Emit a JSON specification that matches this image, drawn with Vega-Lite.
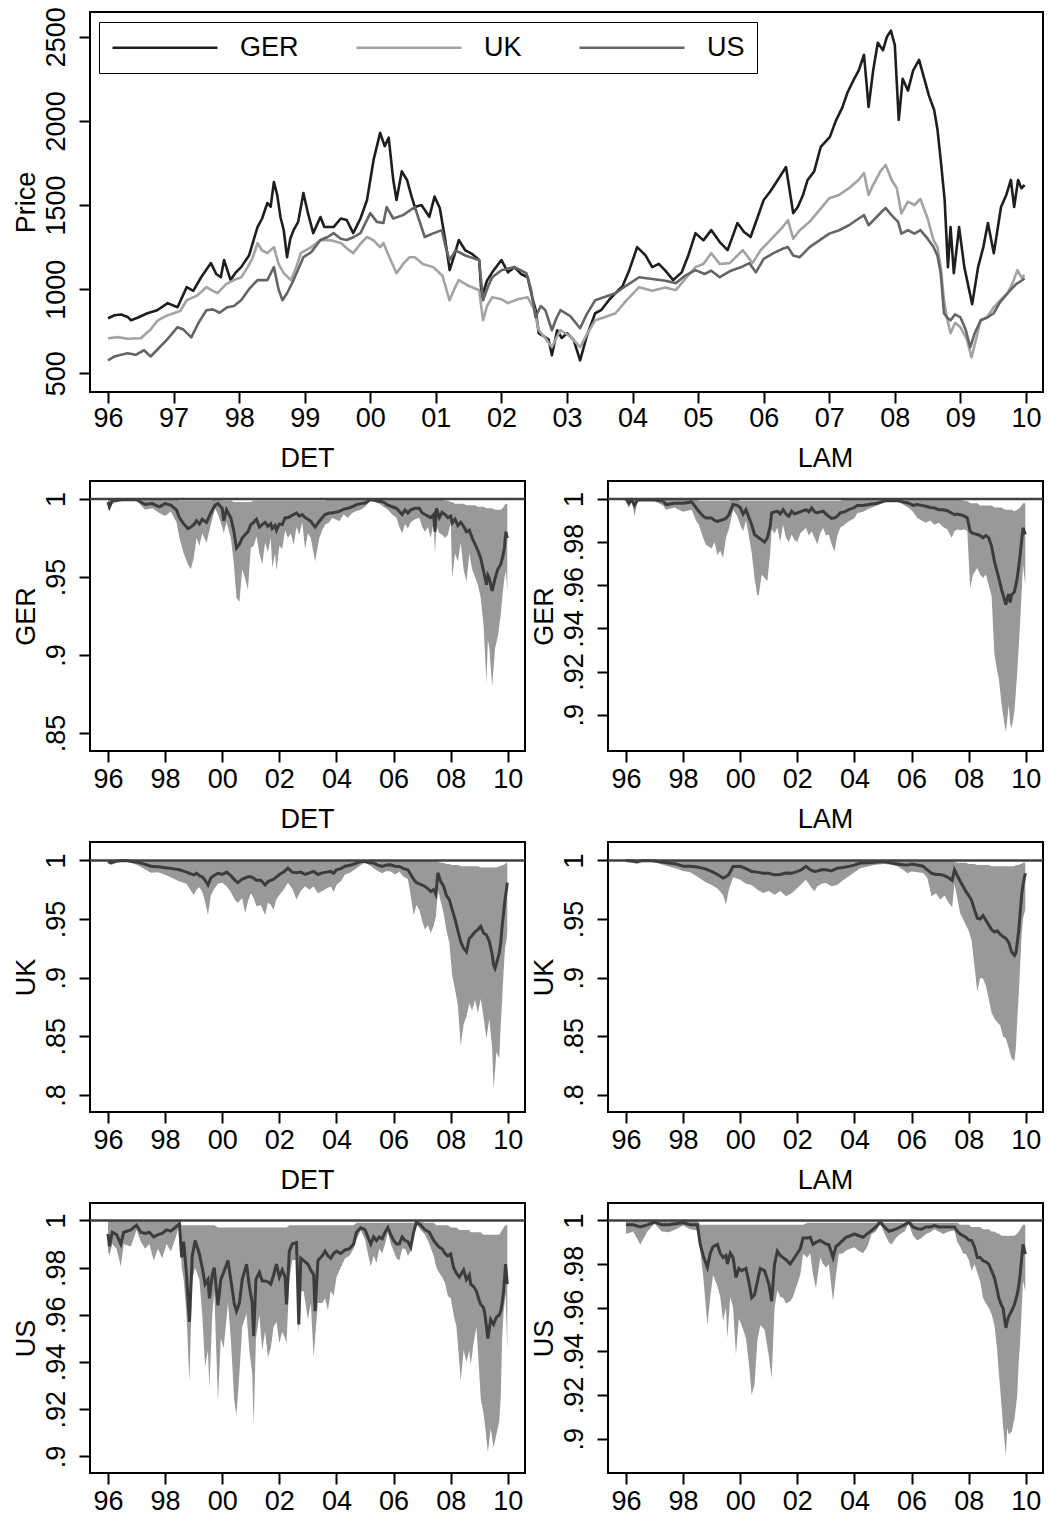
{
"$schema": "https://vega.github.io/schema/vega-lite/v6.json",
"background": "white",
"padding": {"left": 11, "top": 5, "right": 0, "bottom": 0},
"spacing": 12,
"config": {
 "font": "Liberation Sans",
 "view": {"stroke": "black", "strokeWidth": 2},
 "axis": {"grid": false, "domain": false, "tickSize": 11, "tickWidth": 2, "tickColor": "black", "labelFontSize": 27, "labelColor": "black", "labelFont": "Liberation Sans", "titleFontSize": 27, "titleFontWeight": "normal", "titleColor": "black", "titleFont": "Liberation Sans", "labelOverlap": false, "labelFlush": false, "labelPadding": 4},
 "axisY": {"labelAngle": -90, "labelAlign": "center", "labelBaseline": "alphabetic", "labelPadding": 15, "titleAngle": -90, "titleAlign": "center", "titleBaseline": "alphabetic"},
 "title": {"fontSize": 27, "fontWeight": "normal", "font": "Liberation Sans", "color": "black", "offset": 8, "anchor": "middle", "frame": "group"}
},
"datasets": {
"price": [
{"c":"GER","t":1996.0,"v":827},{"c":"GER","t":1996.1,"v":845},{"c":"GER","t":1996.2,"v":850},{"c":"GER","t":1996.3,"v":835},{"c":"GER","t":1996.35,"v":815},{"c":"GER","t":1996.45,"v":830},{"c":"GER","t":1996.6,"v":857},{"c":"GER","t":1996.75,"v":875},{"c":"GER","t":1996.91,"v":917},{"c":"GER","t":1997.06,"v":893},{"c":"GER","t":1997.2,"v":1012},{"c":"GER","t":1997.3,"v":990},{"c":"GER","t":1997.42,"v":1071},{"c":"GER","t":1997.57,"v":1155},{"c":"GER","t":1997.65,"v":1090},{"c":"GER","t":1997.72,"v":1071},{"c":"GER","t":1997.77,"v":1173},{"c":"GER","t":1997.87,"v":1054},{"c":"GER","t":1997.95,"v":1100},{"c":"GER","t":1998.03,"v":1131},{"c":"GER","t":1998.15,"v":1200},{"c":"GER","t":1998.28,"v":1369},{"c":"GER","t":1998.35,"v":1420},{"c":"GER","t":1998.43,"v":1512},{"c":"GER","t":1998.48,"v":1490},{"c":"GER","t":1998.53,"v":1637},{"c":"GER","t":1998.58,"v":1560},{"c":"GER","t":1998.63,"v":1429},{"c":"GER","t":1998.68,"v":1350},{"c":"GER","t":1998.73,"v":1190},{"c":"GER","t":1998.78,"v":1300},{"c":"GER","t":1998.83,"v":1351},{"c":"GER","t":1998.9,"v":1400},{"c":"GER","t":1998.98,"v":1571},{"c":"GER","t":1999.05,"v":1450},{"c":"GER","t":1999.13,"v":1333},{"c":"GER","t":1999.24,"v":1429},{"c":"GER","t":1999.3,"v":1370},{"c":"GER","t":1999.44,"v":1369},{"c":"GER","t":1999.55,"v":1420},{"c":"GER","t":1999.64,"v":1411},{"c":"GER","t":1999.74,"v":1333},{"c":"GER","t":1999.85,"v":1420},{"c":"GER","t":1999.95,"v":1530},{"c":"GER","t":2000.05,"v":1768},{"c":"GER","t":2000.15,"v":1929},{"c":"GER","t":2000.22,"v":1850},{"c":"GER","t":2000.28,"v":1900},{"c":"GER","t":2000.35,"v":1650},{"c":"GER","t":2000.4,"v":1530},{"c":"GER","t":2000.48,"v":1700},{"c":"GER","t":2000.56,"v":1649},{"c":"GER","t":2000.63,"v":1550},{"c":"GER","t":2000.68,"v":1488},{"c":"GER","t":2000.78,"v":1500},{"c":"GER","t":2000.9,"v":1430},{"c":"GER","t":2000.98,"v":1550},{"c":"GER","t":2001.06,"v":1482},{"c":"GER","t":2001.14,"v":1300},{"c":"GER","t":2001.21,"v":1113},{"c":"GER","t":2001.28,"v":1200},{"c":"GER","t":2001.35,"v":1292},{"c":"GER","t":2001.45,"v":1230},{"c":"GER","t":2001.55,"v":1210},{"c":"GER","t":2001.66,"v":1173},{"c":"GER","t":2001.7,"v":952},{"c":"GER","t":2001.78,"v":1050},{"c":"GER","t":2001.86,"v":1100},{"c":"GER","t":2002.0,"v":1173},{"c":"GER","t":2002.1,"v":1100},{"c":"GER","t":2002.2,"v":1131},{"c":"GER","t":2002.3,"v":1090},{"c":"GER","t":2002.4,"v":1071},{"c":"GER","t":2002.47,"v":950},{"c":"GER","t":2002.52,"v":880},{"c":"GER","t":2002.57,"v":738},{"c":"GER","t":2002.65,"v":720},{"c":"GER","t":2002.72,"v":700},{"c":"GER","t":2002.77,"v":607},{"c":"GER","t":2002.85,"v":756},{"c":"GER","t":2002.92,"v":710},{"c":"GER","t":2003.0,"v":738},{"c":"GER","t":2003.1,"v":700},{"c":"GER","t":2003.2,"v":577},{"c":"GER","t":2003.3,"v":720},{"c":"GER","t":2003.43,"v":857},{"c":"GER","t":2003.52,"v":875},{"c":"GER","t":2003.65,"v":940},{"c":"GER","t":2003.74,"v":976},{"c":"GER","t":2003.85,"v":1020},{"c":"GER","t":2003.95,"v":1113},{"c":"GER","t":2004.07,"v":1250},{"c":"GER","t":2004.2,"v":1200},{"c":"GER","t":2004.3,"v":1131},{"c":"GER","t":2004.4,"v":1150},{"c":"GER","t":2004.5,"v":1110},{"c":"GER","t":2004.62,"v":1054},{"c":"GER","t":2004.75,"v":1100},{"c":"GER","t":2004.85,"v":1200},{"c":"GER","t":2004.96,"v":1333},{"c":"GER","t":2005.08,"v":1290},{"c":"GER","t":2005.2,"v":1351},{"c":"GER","t":2005.33,"v":1280},{"c":"GER","t":2005.45,"v":1232},{"c":"GER","t":2005.6,"v":1393},{"c":"GER","t":2005.7,"v":1340},{"c":"GER","t":2005.8,"v":1310},{"c":"GER","t":2005.9,"v":1420},{"c":"GER","t":2006.0,"v":1530},{"c":"GER","t":2006.1,"v":1580},{"c":"GER","t":2006.2,"v":1640},{"c":"GER","t":2006.34,"v":1726},{"c":"GER","t":2006.45,"v":1452},{"c":"GER","t":2006.52,"v":1488},{"c":"GER","t":2006.6,"v":1560},{"c":"GER","t":2006.67,"v":1649},{"c":"GER","t":2006.77,"v":1700},{"c":"GER","t":2006.87,"v":1845},{"c":"GER","t":2007.01,"v":1905},{"c":"GER","t":2007.1,"v":2000},{"c":"GER","t":2007.2,"v":2080},{"c":"GER","t":2007.28,"v":2170},{"c":"GER","t":2007.38,"v":2250},{"c":"GER","t":2007.45,"v":2300},{"c":"GER","t":2007.53,"v":2393},{"c":"GER","t":2007.6,"v":2083},{"c":"GER","t":2007.67,"v":2300},{"c":"GER","t":2007.74,"v":2464},{"c":"GER","t":2007.82,"v":2420},{"c":"GER","t":2007.88,"v":2500},{"c":"GER","t":2007.94,"v":2536},{"c":"GER","t":2008.0,"v":2450},{"c":"GER","t":2008.06,"v":2006},{"c":"GER","t":2008.12,"v":2250},{"c":"GER","t":2008.2,"v":2180},{"c":"GER","t":2008.28,"v":2300},{"c":"GER","t":2008.37,"v":2363},{"c":"GER","t":2008.45,"v":2250},{"c":"GER","t":2008.52,"v":2150},{"c":"GER","t":2008.6,"v":2065},{"c":"GER","t":2008.65,"v":1950},{"c":"GER","t":2008.7,"v":1768},{"c":"GER","t":2008.76,"v":1530},{"c":"GER","t":2008.81,"v":1131},{"c":"GER","t":2008.85,"v":1369},{"c":"GER","t":2008.9,"v":1095},{"c":"GER","t":2008.98,"v":1369},{"c":"GER","t":2009.06,"v":1131},{"c":"GER","t":2009.18,"v":911},{"c":"GER","t":2009.27,"v":1131},{"c":"GER","t":2009.35,"v":1250},{"c":"GER","t":2009.42,"v":1393},{"c":"GER","t":2009.51,"v":1214},{"c":"GER","t":2009.62,"v":1488},{"c":"GER","t":2009.7,"v":1560},{"c":"GER","t":2009.77,"v":1649},{"c":"GER","t":2009.82,"v":1488},{"c":"GER","t":2009.88,"v":1649},{"c":"GER","t":2009.93,"v":1600},{"c":"GER","t":2009.98,"v":1619},
{"c":"UK","t":1996.0,"v":708},{"c":"UK","t":1996.15,"v":715},{"c":"UK","t":1996.3,"v":705},{"c":"UK","t":1996.5,"v":708},{"c":"UK","t":1996.65,"v":760},{"c":"UK","t":1996.76,"v":815},{"c":"UK","t":1996.88,"v":840},{"c":"UK","t":1997.0,"v":857},{"c":"UK","t":1997.1,"v":870},{"c":"UK","t":1997.2,"v":934},{"c":"UK","t":1997.35,"v":960},{"c":"UK","t":1997.5,"v":1012},{"c":"UK","t":1997.6,"v":990},{"c":"UK","t":1997.67,"v":976},{"c":"UK","t":1997.8,"v":1030},{"c":"UK","t":1997.92,"v":1054},{"c":"UK","t":1998.03,"v":1070},{"c":"UK","t":1998.13,"v":1131},{"c":"UK","t":1998.2,"v":1180},{"c":"UK","t":1998.28,"v":1274},{"c":"UK","t":1998.35,"v":1230},{"c":"UK","t":1998.43,"v":1214},{"c":"UK","t":1998.53,"v":1250},{"c":"UK","t":1998.6,"v":1150},{"c":"UK","t":1998.68,"v":1095},{"c":"UK","t":1998.79,"v":1054},{"c":"UK","t":1998.87,"v":1130},{"c":"UK","t":1998.94,"v":1214},{"c":"UK","t":1999.1,"v":1250},{"c":"UK","t":1999.24,"v":1292},{"c":"UK","t":1999.4,"v":1290},{"c":"UK","t":1999.55,"v":1274},{"c":"UK","t":1999.65,"v":1240},{"c":"UK","t":1999.74,"v":1214},{"c":"UK","t":1999.85,"v":1270},{"c":"UK","t":1999.95,"v":1310},{"c":"UK","t":2000.05,"v":1290},{"c":"UK","t":2000.15,"v":1250},{"c":"UK","t":2000.2,"v":1274},{"c":"UK","t":2000.28,"v":1200},{"c":"UK","t":2000.4,"v":1095},{"c":"UK","t":2000.5,"v":1150},{"c":"UK","t":2000.6,"v":1190},{"c":"UK","t":2000.68,"v":1190},{"c":"UK","t":2000.8,"v":1150},{"c":"UK","t":2000.96,"v":1131},{"c":"UK","t":2001.1,"v":1080},{"c":"UK","t":2001.21,"v":934},{"c":"UK","t":2001.28,"v":1000},{"c":"UK","t":2001.35,"v":1054},{"c":"UK","t":2001.5,"v":1020},{"c":"UK","t":2001.66,"v":994},{"c":"UK","t":2001.72,"v":815},{"c":"UK","t":2001.78,"v":900},{"c":"UK","t":2001.86,"v":952},{"c":"UK","t":2002.0,"v":940},{"c":"UK","t":2002.1,"v":917},{"c":"UK","t":2002.25,"v":940},{"c":"UK","t":2002.4,"v":952},{"c":"UK","t":2002.5,"v":880},{"c":"UK","t":2002.57,"v":756},{"c":"UK","t":2002.65,"v":720},{"c":"UK","t":2002.77,"v":655},{"c":"UK","t":2002.85,"v":720},{"c":"UK","t":2002.9,"v":756},{"c":"UK","t":2003.05,"v":720},{"c":"UK","t":2003.2,"v":655},{"c":"UK","t":2003.3,"v":730},{"c":"UK","t":2003.43,"v":815},{"c":"UK","t":2003.55,"v":830},{"c":"UK","t":2003.74,"v":857},{"c":"UK","t":2003.9,"v":930},{"c":"UK","t":2004.1,"v":1012},{"c":"UK","t":2004.3,"v":990},{"c":"UK","t":2004.5,"v":1010},{"c":"UK","t":2004.66,"v":994},{"c":"UK","t":2004.8,"v":1060},{"c":"UK","t":2004.96,"v":1131},{"c":"UK","t":2005.08,"v":1150},{"c":"UK","t":2005.2,"v":1214},{"c":"UK","t":2005.33,"v":1150},{"c":"UK","t":2005.48,"v":1155},{"c":"UK","t":2005.6,"v":1200},{"c":"UK","t":2005.68,"v":1232},{"c":"UK","t":2005.83,"v":1155},{"c":"UK","t":2005.95,"v":1230},{"c":"UK","t":2006.1,"v":1292},{"c":"UK","t":2006.29,"v":1369},{"c":"UK","t":2006.37,"v":1410},{"c":"UK","t":2006.45,"v":1300},{"c":"UK","t":2006.55,"v":1350},{"c":"UK","t":2006.7,"v":1400},{"c":"UK","t":2006.85,"v":1470},{"c":"UK","t":2007.0,"v":1540},{"c":"UK","t":2007.15,"v":1560},{"c":"UK","t":2007.3,"v":1600},{"c":"UK","t":2007.45,"v":1650},{"c":"UK","t":2007.53,"v":1690},{"c":"UK","t":2007.6,"v":1560},{"c":"UK","t":2007.67,"v":1620},{"c":"UK","t":2007.78,"v":1700},{"c":"UK","t":2007.86,"v":1738},{"c":"UK","t":2007.95,"v":1650},{"c":"UK","t":2008.03,"v":1600},{"c":"UK","t":2008.1,"v":1450},{"c":"UK","t":2008.2,"v":1520},{"c":"UK","t":2008.3,"v":1500},{"c":"UK","t":2008.39,"v":1536},{"c":"UK","t":2008.5,"v":1420},{"c":"UK","t":2008.59,"v":1292},{"c":"UK","t":2008.65,"v":1250},{"c":"UK","t":2008.7,"v":1131},{"c":"UK","t":2008.75,"v":934},{"c":"UK","t":2008.8,"v":820},{"c":"UK","t":2008.85,"v":738},{"c":"UK","t":2008.92,"v":800},{"c":"UK","t":2009.0,"v":774},{"c":"UK","t":2009.1,"v":700},{"c":"UK","t":2009.17,"v":595},{"c":"UK","t":2009.25,"v":720},{"c":"UK","t":2009.31,"v":815},{"c":"UK","t":2009.4,"v":830},{"c":"UK","t":2009.51,"v":893},{"c":"UK","t":2009.6,"v":930},{"c":"UK","t":2009.72,"v":976},{"c":"UK","t":2009.8,"v":1040},{"c":"UK","t":2009.87,"v":1113},{"c":"UK","t":2009.93,"v":1070},{"c":"UK","t":2009.98,"v":1083},
{"c":"US","t":1996.0,"v":577},{"c":"US","t":1996.1,"v":600},{"c":"US","t":1996.2,"v":610},{"c":"US","t":1996.3,"v":619},{"c":"US","t":1996.42,"v":610},{"c":"US","t":1996.55,"v":637},{"c":"US","t":1996.65,"v":600},{"c":"US","t":1996.75,"v":640},{"c":"US","t":1996.9,"v":700},{"c":"US","t":1997.06,"v":774},{"c":"US","t":1997.15,"v":760},{"c":"US","t":1997.27,"v":714},{"c":"US","t":1997.38,"v":800},{"c":"US","t":1997.5,"v":875},{"c":"US","t":1997.6,"v":880},{"c":"US","t":1997.7,"v":860},{"c":"US","t":1997.82,"v":893},{"c":"US","t":1997.92,"v":900},{"c":"US","t":1998.03,"v":934},{"c":"US","t":1998.15,"v":1000},{"c":"US","t":1998.28,"v":1054},{"c":"US","t":1998.43,"v":1054},{"c":"US","t":1998.53,"v":1131},{"c":"US","t":1998.6,"v":1000},{"c":"US","t":1998.66,"v":934},{"c":"US","t":1998.73,"v":976},{"c":"US","t":1998.83,"v":1054},{"c":"US","t":1998.98,"v":1190},{"c":"US","t":1999.1,"v":1220},{"c":"US","t":1999.24,"v":1292},{"c":"US","t":1999.35,"v":1310},{"c":"US","t":1999.44,"v":1333},{"c":"US","t":1999.55,"v":1300},{"c":"US","t":1999.64,"v":1292},{"c":"US","t":1999.75,"v":1310},{"c":"US","t":1999.85,"v":1333},{"c":"US","t":2000.0,"v":1452},{"c":"US","t":2000.1,"v":1400},{"c":"US","t":2000.2,"v":1393},{"c":"US","t":2000.25,"v":1488},{"c":"US","t":2000.35,"v":1420},{"c":"US","t":2000.5,"v":1440},{"c":"US","t":2000.68,"v":1488},{"c":"US","t":2000.83,"v":1310},{"c":"US","t":2000.95,"v":1330},{"c":"US","t":2001.09,"v":1351},{"c":"US","t":2001.15,"v":1250},{"c":"US","t":2001.21,"v":1173},{"c":"US","t":2001.3,"v":1230},{"c":"US","t":2001.45,"v":1200},{"c":"US","t":2001.6,"v":1180},{"c":"US","t":2001.66,"v":1173},{"c":"US","t":2001.72,"v":934},{"c":"US","t":2001.8,"v":1020},{"c":"US","t":2001.86,"v":1071},{"c":"US","t":2002.0,"v":1113},{"c":"US","t":2002.2,"v":1131},{"c":"US","t":2002.38,"v":1095},{"c":"US","t":2002.45,"v":1000},{"c":"US","t":2002.52,"v":833},{"c":"US","t":2002.6,"v":900},{"c":"US","t":2002.67,"v":875},{"c":"US","t":2002.77,"v":756},{"c":"US","t":2002.83,"v":820},{"c":"US","t":2002.9,"v":875},{"c":"US","t":2003.05,"v":840},{"c":"US","t":2003.2,"v":768},{"c":"US","t":2003.3,"v":850},{"c":"US","t":2003.43,"v":934},{"c":"US","t":2003.55,"v":950},{"c":"US","t":2003.74,"v":976},{"c":"US","t":2003.9,"v":1020},{"c":"US","t":2004.1,"v":1071},{"c":"US","t":2004.3,"v":1060},{"c":"US","t":2004.5,"v":1050},{"c":"US","t":2004.66,"v":1036},{"c":"US","t":2004.8,"v":1080},{"c":"US","t":2004.96,"v":1113},{"c":"US","t":2005.1,"v":1090},{"c":"US","t":2005.2,"v":1110},{"c":"US","t":2005.33,"v":1071},{"c":"US","t":2005.5,"v":1110},{"c":"US","t":2005.65,"v":1130},{"c":"US","t":2005.78,"v":1155},{"c":"US","t":2005.88,"v":1100},{"c":"US","t":2006.0,"v":1180},{"c":"US","t":2006.15,"v":1214},{"c":"US","t":2006.29,"v":1240},{"c":"US","t":2006.37,"v":1250},{"c":"US","t":2006.45,"v":1200},{"c":"US","t":2006.55,"v":1190},{"c":"US","t":2006.7,"v":1250},{"c":"US","t":2006.85,"v":1290},{"c":"US","t":2007.0,"v":1330},{"c":"US","t":2007.15,"v":1350},{"c":"US","t":2007.3,"v":1380},{"c":"US","t":2007.45,"v":1420},{"c":"US","t":2007.53,"v":1440},{"c":"US","t":2007.6,"v":1380},{"c":"US","t":2007.7,"v":1420},{"c":"US","t":2007.8,"v":1460},{"c":"US","t":2007.86,"v":1482},{"c":"US","t":2007.95,"v":1440},{"c":"US","t":2008.05,"v":1400},{"c":"US","t":2008.1,"v":1330},{"c":"US","t":2008.2,"v":1350},{"c":"US","t":2008.3,"v":1330},{"c":"US","t":2008.39,"v":1351},{"c":"US","t":2008.5,"v":1300},{"c":"US","t":2008.59,"v":1250},{"c":"US","t":2008.65,"v":1200},{"c":"US","t":2008.7,"v":1095},{"c":"US","t":2008.75,"v":857},{"c":"US","t":2008.8,"v":830},{"c":"US","t":2008.85,"v":815},{"c":"US","t":2008.92,"v":850},{"c":"US","t":2009.0,"v":833},{"c":"US","t":2009.08,"v":760},{"c":"US","t":2009.15,"v":655},{"c":"US","t":2009.22,"v":740},{"c":"US","t":2009.31,"v":815},{"c":"US","t":2009.4,"v":830},{"c":"US","t":2009.51,"v":857},{"c":"US","t":2009.6,"v":920},{"c":"US","t":2009.72,"v":976},{"c":"US","t":2009.85,"v":1030},{"c":"US","t":2009.93,"v":1050},{"c":"US","t":2009.98,"v":1065}
],
"gd": [
{"t":1996.0,"lo":0.994,"m":0.998,"hi":1},{"t":1996.05,"lo":0.992,"m":0.995,"hi":1},{"t":1996.15,"lo":0.997,"m":0.999,"hi":1},{"t":1996.5,"lo":0.999,"m":0.9995,"hi":1},{"t":1997.0,"lo":0.999,"m":0.9995,"hi":1},{"t":1997.3,"lo":0.993,"m":0.9964,"hi":1},{"t":1997.55,"lo":0.994,"m":0.997,"hi":1},{"t":1997.8,"lo":0.991,"m":0.995,"hi":1},{"t":1998.0,"lo":0.989,"m":0.997,"hi":1},{"t":1998.2,"lo":0.992,"m":0.996,"hi":1},{"t":1998.4,"lo":0.985,"m":0.993,"hi":0.9995},{"t":1998.5,"lo":0.975,"m":0.988,"hi":0.999},{"t":1998.65,"lo":0.965,"m":0.984,"hi":0.999},{"t":1998.8,"lo":0.958,"m":0.981,"hi":0.999},{"t":1998.9,"lo":0.955,"m":0.982,"hi":0.999},{"t":1999.0,"lo":0.962,"m":0.9835,"hi":0.999},{"t":1999.1,"lo":0.975,"m":0.986,"hi":0.999},{"t":1999.2,"lo":0.97,"m":0.984,"hi":0.999},{"t":1999.3,"lo":0.978,"m":0.987,"hi":0.999},{"t":1999.45,"lo":0.972,"m":0.985,"hi":0.999},{"t":1999.6,"lo":0.9835,"m":0.991,"hi":0.999},{"t":1999.75,"lo":0.994,"m":0.996,"hi":1},{"t":1999.85,"lo":0.99,"m":0.997,"hi":1},{"t":2000.0,"lo":0.982,"m":0.994,"hi":0.999},{"t":2000.05,"lo":0.978,"m":0.986,"hi":0.999},{"t":2000.15,"lo":0.985,"m":0.993,"hi":0.999},{"t":2000.3,"lo":0.975,"m":0.988,"hi":0.999},{"t":2000.4,"lo":0.96,"m":0.98,"hi":0.998},{"t":2000.5,"lo":0.9365,"m":0.9686,"hi":0.998},{"t":2000.6,"lo":0.934,"m":0.971,"hi":0.998},{"t":2000.7,"lo":0.955,"m":0.975,"hi":0.998},{"t":2000.8,"lo":0.949,"m":0.977,"hi":0.998},{"t":2000.9,"lo":0.942,"m":0.979,"hi":0.998},{"t":2001.0,"lo":0.9686,"m":0.9835,"hi":0.998},{"t":2001.1,"lo":0.97,"m":0.985,"hi":0.999},{"t":2001.2,"lo":0.976,"m":0.987,"hi":0.999},{"t":2001.3,"lo":0.965,"m":0.982,"hi":0.999},{"t":2001.4,"lo":0.958,"m":0.9835,"hi":0.999},{"t":2001.5,"lo":0.972,"m":0.985,"hi":0.999},{"t":2001.6,"lo":0.966,"m":0.9825,"hi":0.999},{"t":2001.7,"lo":0.975,"m":0.984,"hi":0.999},{"t":2001.75,"lo":0.956,"m":0.981,"hi":0.999},{"t":2001.85,"lo":0.965,"m":0.983,"hi":0.999},{"t":2001.9,"lo":0.954,"m":0.98,"hi":0.999},{"t":2002.0,"lo":0.97,"m":0.984,"hi":0.999},{"t":2002.1,"lo":0.968,"m":0.9835,"hi":0.999},{"t":2002.2,"lo":0.98,"m":0.988,"hi":0.999},{"t":2002.3,"lo":0.975,"m":0.988,"hi":0.999},{"t":2002.4,"lo":0.978,"m":0.989,"hi":0.999},{"t":2002.5,"lo":0.9707,"m":0.99,"hi":0.999},{"t":2002.6,"lo":0.982,"m":0.991,"hi":0.999},{"t":2002.7,"lo":0.977,"m":0.989,"hi":0.999},{"t":2002.8,"lo":0.985,"m":0.99,"hi":0.999},{"t":2002.9,"lo":0.968,"m":0.988,"hi":0.999},{"t":2003.0,"lo":0.978,"m":0.987,"hi":0.999},{"t":2003.1,"lo":0.975,"m":0.9857,"hi":0.999},{"t":2003.25,"lo":0.96,"m":0.982,"hi":0.999},{"t":2003.4,"lo":0.975,"m":0.9857,"hi":0.999},{"t":2003.5,"lo":0.98,"m":0.988,"hi":0.999},{"t":2003.6,"lo":0.9835,"m":0.99,"hi":0.999},{"t":2003.75,"lo":0.985,"m":0.991,"hi":1},{"t":2003.85,"lo":0.988,"m":0.991,"hi":1},{"t":2004.1,"lo":0.9857,"m":0.992,"hi":1},{"t":2004.25,"lo":0.99,"m":0.9935,"hi":1},{"t":2004.4,"lo":0.988,"m":0.994,"hi":1},{"t":2004.55,"lo":0.991,"m":0.995,"hi":1},{"t":2004.7,"lo":0.9923,"m":0.9964,"hi":1},{"t":2004.85,"lo":0.993,"m":0.997,"hi":1},{"t":2005.0,"lo":0.995,"m":0.9974,"hi":1},{"t":2005.2,"lo":0.999,"m":0.9996,"hi":1},{"t":2005.35,"lo":0.998,"m":0.999,"hi":1},{"t":2005.5,"lo":0.997,"m":0.9985,"hi":1},{"t":2005.65,"lo":0.995,"m":0.998,"hi":1},{"t":2005.8,"lo":0.993,"m":0.996,"hi":1},{"t":2005.95,"lo":0.99,"m":0.995,"hi":1},{"t":2006.1,"lo":0.988,"m":0.994,"hi":1},{"t":2006.2,"lo":0.982,"m":0.992,"hi":1},{"t":2006.3,"lo":0.978,"m":0.99,"hi":1},{"t":2006.4,"lo":0.984,"m":0.993,"hi":1},{"t":2006.5,"lo":0.981,"m":0.991,"hi":1},{"t":2006.6,"lo":0.985,"m":0.993,"hi":1},{"t":2006.75,"lo":0.987,"m":0.994,"hi":1},{"t":2006.9,"lo":0.988,"m":0.994,"hi":1},{"t":2007.0,"lo":0.982,"m":0.991,"hi":1},{"t":2007.1,"lo":0.979,"m":0.99,"hi":1},{"t":2007.2,"lo":0.982,"m":0.989,"hi":1},{"t":2007.3,"lo":0.975,"m":0.988,"hi":1},{"t":2007.4,"lo":0.985,"m":0.99,"hi":1},{"t":2007.45,"lo":0.965,"m":0.979,"hi":1},{"t":2007.5,"lo":0.983,"m":0.994,"hi":1},{"t":2007.6,"lo":0.978,"m":0.988,"hi":1},{"t":2007.7,"lo":0.977,"m":0.9915,"hi":1},{"t":2007.8,"lo":0.975,"m":0.99,"hi":0.999},{"t":2007.9,"lo":0.977,"m":0.988,"hi":0.999},{"t":2008.0,"lo":0.985,"m":0.989,"hi":0.998},{"t":2008.05,"lo":0.9494,"m":0.9846,"hi":0.998},{"t":2008.15,"lo":0.965,"m":0.987,"hi":0.997},{"t":2008.25,"lo":0.96,"m":0.983,"hi":0.997},{"t":2008.35,"lo":0.972,"m":0.985,"hi":0.997},{"t":2008.45,"lo":0.955,"m":0.9825,"hi":0.997},{"t":2008.55,"lo":0.947,"m":0.979,"hi":0.996},{"t":2008.65,"lo":0.965,"m":0.98,"hi":0.996},{"t":2008.75,"lo":0.955,"m":0.975,"hi":0.996},{"t":2008.85,"lo":0.95,"m":0.971,"hi":0.996},{"t":2008.95,"lo":0.945,"m":0.967,"hi":0.995},{"t":2009.05,"lo":0.9365,"m":0.962,"hi":0.995},{"t":2009.15,"lo":0.919,"m":0.9536,"hi":0.995},{"t":2009.25,"lo":0.882,"m":0.945,"hi":0.994},{"t":2009.3,"lo":0.91,"m":0.951,"hi":0.994},{"t":2009.35,"lo":0.905,"m":0.949,"hi":0.994},{"t":2009.45,"lo":0.88,"m":0.941,"hi":0.994},{"t":2009.55,"lo":0.904,"m":0.949,"hi":0.993},{"t":2009.65,"lo":0.912,"m":0.955,"hi":0.993},{"t":2009.75,"lo":0.926,"m":0.958,"hi":0.993},{"t":2009.82,"lo":0.94,"m":0.963,"hi":0.994},{"t":2009.88,"lo":0.949,"m":0.9686,"hi":0.996},{"t":2009.93,"lo":0.954,"m":0.979,"hi":0.997},{"t":2009.98,"lo":0.941,"m":0.975,"hi":0.997}
],
"gl": [
{"t":1996.0,"lo":0.999,"m":1.0,"hi":1},{"t":1996.1,"lo":0.9958,"m":0.998,"hi":1},{"t":1996.2,"lo":0.999,"m":0.9995,"hi":1},{"t":1996.3,"lo":0.992,"m":0.997,"hi":1},{"t":1996.4,"lo":0.999,"m":0.9995,"hi":1},{"t":1997.0,"lo":0.999,"m":0.9995,"hi":1},{"t":1997.3,"lo":0.997,"m":0.999,"hi":1},{"t":1997.4,"lo":0.995,"m":0.9974,"hi":1},{"t":1997.7,"lo":0.996,"m":0.998,"hi":1},{"t":1998.0,"lo":0.994,"m":0.998,"hi":1},{"t":1998.3,"lo":0.995,"m":0.9986,"hi":1},{"t":1998.45,"lo":0.99,"m":0.996,"hi":1},{"t":1998.55,"lo":0.988,"m":0.9943,"hi":0.999},{"t":1998.7,"lo":0.982,"m":0.992,"hi":0.999},{"t":1998.8,"lo":0.9788,"m":0.9912,"hi":0.999},{"t":1999.0,"lo":0.977,"m":0.9912,"hi":0.999},{"t":1999.1,"lo":0.98,"m":0.99,"hi":0.999},{"t":1999.2,"lo":0.974,"m":0.9896,"hi":0.999},{"t":1999.3,"lo":0.976,"m":0.99,"hi":0.999},{"t":1999.4,"lo":0.9727,"m":0.9904,"hi":0.999},{"t":1999.5,"lo":0.982,"m":0.991,"hi":0.999},{"t":1999.6,"lo":0.986,"m":0.9927,"hi":0.999},{"t":1999.75,"lo":0.995,"m":0.9974,"hi":1},{"t":1999.9,"lo":0.992,"m":0.997,"hi":1},{"t":2000.0,"lo":0.988,"m":0.996,"hi":0.999},{"t":2000.1,"lo":0.985,"m":0.993,"hi":0.999},{"t":2000.2,"lo":0.99,"m":0.995,"hi":0.999},{"t":2000.3,"lo":0.983,"m":0.9915,"hi":0.999},{"t":2000.4,"lo":0.975,"m":0.988,"hi":0.999},{"t":2000.5,"lo":0.9634,"m":0.9835,"hi":0.999},{"t":2000.6,"lo":0.955,"m":0.9825,"hi":0.999},{"t":2000.65,"lo":0.9556,"m":0.982,"hi":0.999},{"t":2000.75,"lo":0.965,"m":0.981,"hi":0.999},{"t":2000.85,"lo":0.9634,"m":0.98,"hi":0.999},{"t":2000.95,"lo":0.962,"m":0.982,"hi":0.999},{"t":2001.05,"lo":0.975,"m":0.9875,"hi":0.999},{"t":2001.1,"lo":0.986,"m":0.9935,"hi":0.999},{"t":2001.2,"lo":0.984,"m":0.994,"hi":0.999},{"t":2001.3,"lo":0.9866,"m":0.9943,"hi":0.999},{"t":2001.4,"lo":0.98,"m":0.993,"hi":0.999},{"t":2001.5,"lo":0.988,"m":0.995,"hi":0.999},{"t":2001.6,"lo":0.982,"m":0.993,"hi":0.999},{"t":2001.7,"lo":0.98,"m":0.992,"hi":0.999},{"t":2001.8,"lo":0.9835,"m":0.9943,"hi":0.999},{"t":2001.9,"lo":0.981,"m":0.993,"hi":0.999},{"t":2002.0,"lo":0.98,"m":0.9935,"hi":0.999},{"t":2002.1,"lo":0.984,"m":0.994,"hi":0.999},{"t":2002.3,"lo":0.9866,"m":0.995,"hi":0.999},{"t":2002.4,"lo":0.983,"m":0.994,"hi":0.999},{"t":2002.5,"lo":0.985,"m":0.9958,"hi":0.999},{"t":2002.6,"lo":0.982,"m":0.994,"hi":0.999},{"t":2002.7,"lo":0.979,"m":0.9935,"hi":0.999},{"t":2002.8,"lo":0.984,"m":0.994,"hi":0.999},{"t":2002.9,"lo":0.9866,"m":0.9943,"hi":0.999},{"t":2003.0,"lo":0.983,"m":0.993,"hi":0.999},{"t":2003.1,"lo":0.9835,"m":0.9919,"hi":0.999},{"t":2003.2,"lo":0.979,"m":0.991,"hi":0.999},{"t":2003.3,"lo":0.9757,"m":0.9912,"hi":0.999},{"t":2003.4,"lo":0.983,"m":0.992,"hi":0.999},{"t":2003.5,"lo":0.9866,"m":0.9935,"hi":0.999},{"t":2003.65,"lo":0.988,"m":0.994,"hi":1},{"t":2003.8,"lo":0.9897,"m":0.995,"hi":1},{"t":2004.0,"lo":0.991,"m":0.996,"hi":1},{"t":2004.1,"lo":0.9935,"m":0.997,"hi":1},{"t":2004.3,"lo":0.994,"m":0.997,"hi":1},{"t":2004.5,"lo":0.9954,"m":0.9974,"hi":1},{"t":2004.8,"lo":0.997,"m":0.998,"hi":1},{"t":2005.1,"lo":0.999,"m":0.9992,"hi":1},{"t":2005.5,"lo":0.999,"m":0.9992,"hi":1},{"t":2005.9,"lo":0.9958,"m":0.998,"hi":1},{"t":2006.05,"lo":0.994,"m":0.997,"hi":1},{"t":2006.2,"lo":0.9912,"m":0.9974,"hi":1},{"t":2006.35,"lo":0.99,"m":0.997,"hi":1},{"t":2006.5,"lo":0.989,"m":0.9966,"hi":1},{"t":2006.65,"lo":0.99,"m":0.996,"hi":1},{"t":2006.8,"lo":0.988,"m":0.9958,"hi":1},{"t":2006.95,"lo":0.989,"m":0.995,"hi":1},{"t":2007.1,"lo":0.987,"m":0.995,"hi":1},{"t":2007.25,"lo":0.986,"m":0.9945,"hi":1},{"t":2007.4,"lo":0.982,"m":0.9935,"hi":1},{"t":2007.5,"lo":0.985,"m":0.9927,"hi":1},{"t":2007.6,"lo":0.986,"m":0.993,"hi":1},{"t":2007.7,"lo":0.9855,"m":0.9927,"hi":1},{"t":2007.85,"lo":0.986,"m":0.992,"hi":0.999},{"t":2007.95,"lo":0.985,"m":0.9912,"hi":0.999},{"t":2008.05,"lo":0.9587,"m":0.985,"hi":0.998},{"t":2008.15,"lo":0.965,"m":0.984,"hi":0.998},{"t":2008.3,"lo":0.968,"m":0.9835,"hi":0.998},{"t":2008.4,"lo":0.965,"m":0.983,"hi":0.997},{"t":2008.5,"lo":0.9634,"m":0.982,"hi":0.997},{"t":2008.6,"lo":0.965,"m":0.983,"hi":0.997},{"t":2008.7,"lo":0.96,"m":0.982,"hi":0.997},{"t":2008.8,"lo":0.955,"m":0.978,"hi":0.997},{"t":2008.9,"lo":0.9278,"m":0.971,"hi":0.996},{"t":2009.0,"lo":0.92,"m":0.966,"hi":0.996},{"t":2009.05,"lo":0.917,"m":0.9634,"hi":0.996},{"t":2009.15,"lo":0.905,"m":0.958,"hi":0.996},{"t":2009.2,"lo":0.9,"m":0.9556,"hi":0.9955},{"t":2009.3,"lo":0.892,"m":0.951,"hi":0.995},{"t":2009.35,"lo":0.898,"m":0.954,"hi":0.995},{"t":2009.4,"lo":0.9046,"m":0.956,"hi":0.995},{"t":2009.45,"lo":0.896,"m":0.952,"hi":0.995},{"t":2009.5,"lo":0.8938,"m":0.9555,"hi":0.995},{"t":2009.6,"lo":0.9015,"m":0.957,"hi":0.9943},{"t":2009.7,"lo":0.92,"m":0.9634,"hi":0.995},{"t":2009.8,"lo":0.943,"m":0.974,"hi":0.996},{"t":2009.9,"lo":0.9696,"m":0.9866,"hi":0.998},{"t":2009.98,"lo":0.96,"m":0.9835,"hi":0.998}
],
"ud": [
{"t":1996.0,"lo":0.998,"m":0.999,"hi":1},{"t":1996.1,"lo":0.996,"m":0.998,"hi":1},{"t":1996.3,"lo":0.998,"m":0.9995,"hi":1},{"t":1996.6,"lo":0.9995,"m":1.0,"hi":1},{"t":1997.0,"lo":0.9963,"m":0.9986,"hi":1},{"t":1997.25,"lo":0.993,"m":0.997,"hi":1},{"t":1997.5,"lo":0.9894,"m":0.995,"hi":1},{"t":1997.75,"lo":0.99,"m":0.9945,"hi":1},{"t":1998.0,"lo":0.9877,"m":0.9937,"hi":1},{"t":1998.25,"lo":0.985,"m":0.993,"hi":1},{"t":1998.5,"lo":0.982,"m":0.992,"hi":1},{"t":1998.75,"lo":0.98,"m":0.99,"hi":1},{"t":1999.0,"lo":0.9706,"m":0.9877,"hi":1},{"t":1999.1,"lo":0.975,"m":0.989,"hi":1},{"t":1999.2,"lo":0.977,"m":0.987,"hi":1},{"t":1999.3,"lo":0.973,"m":0.986,"hi":1},{"t":1999.4,"lo":0.965,"m":0.983,"hi":1},{"t":1999.5,"lo":0.9535,"m":0.979,"hi":1},{"t":1999.6,"lo":0.97,"m":0.985,"hi":1},{"t":1999.7,"lo":0.975,"m":0.987,"hi":1},{"t":1999.85,"lo":0.98,"m":0.989,"hi":1},{"t":2000.0,"lo":0.981,"m":0.988,"hi":1},{"t":2000.15,"lo":0.978,"m":0.99,"hi":1},{"t":2000.3,"lo":0.973,"m":0.987,"hi":1},{"t":2000.45,"lo":0.966,"m":0.983,"hi":1},{"t":2000.55,"lo":0.9638,"m":0.981,"hi":1},{"t":2000.7,"lo":0.968,"m":0.984,"hi":1},{"t":2000.8,"lo":0.955,"m":0.985,"hi":1},{"t":2000.9,"lo":0.965,"m":0.986,"hi":1},{"t":2001.0,"lo":0.972,"m":0.986,"hi":1},{"t":2001.1,"lo":0.968,"m":0.985,"hi":1},{"t":2001.2,"lo":0.961,"m":0.983,"hi":1},{"t":2001.35,"lo":0.962,"m":0.983,"hi":1},{"t":2001.5,"lo":0.9535,"m":0.979,"hi":1},{"t":2001.6,"lo":0.964,"m":0.982,"hi":1},{"t":2001.7,"lo":0.962,"m":0.983,"hi":1},{"t":2001.8,"lo":0.958,"m":0.984,"hi":1},{"t":2001.9,"lo":0.967,"m":0.986,"hi":1},{"t":2002.0,"lo":0.9706,"m":0.988,"hi":1},{"t":2002.15,"lo":0.975,"m":0.99,"hi":1},{"t":2002.3,"lo":0.981,"m":0.9934,"hi":1},{"t":2002.45,"lo":0.976,"m":0.99,"hi":1},{"t":2002.6,"lo":0.9666,"m":0.9894,"hi":1},{"t":2002.75,"lo":0.974,"m":0.99,"hi":1},{"t":2002.9,"lo":0.978,"m":0.988,"hi":1},{"t":2003.05,"lo":0.975,"m":0.9894,"hi":1},{"t":2003.2,"lo":0.9777,"m":0.9906,"hi":1},{"t":2003.35,"lo":0.972,"m":0.988,"hi":1},{"t":2003.5,"lo":0.974,"m":0.9894,"hi":1},{"t":2003.65,"lo":0.976,"m":0.99,"hi":1},{"t":2003.8,"lo":0.9777,"m":0.9906,"hi":1},{"t":2003.9,"lo":0.973,"m":0.989,"hi":1},{"t":2004.0,"lo":0.9792,"m":0.992,"hi":1},{"t":2004.15,"lo":0.982,"m":0.993,"hi":1},{"t":2004.3,"lo":0.988,"m":0.9951,"hi":1},{"t":2004.5,"lo":0.99,"m":0.996,"hi":1},{"t":2004.7,"lo":0.9934,"m":0.9977,"hi":1},{"t":2004.85,"lo":0.996,"m":0.999,"hi":1},{"t":2005.0,"lo":0.998,"m":0.999,"hi":1},{"t":2005.15,"lo":0.996,"m":0.998,"hi":1},{"t":2005.3,"lo":0.9934,"m":0.9977,"hi":1},{"t":2005.45,"lo":0.991,"m":0.996,"hi":1},{"t":2005.6,"lo":0.989,"m":0.9949,"hi":1},{"t":2005.75,"lo":0.991,"m":0.996,"hi":1},{"t":2005.9,"lo":0.9906,"m":0.9963,"hi":1},{"t":2006.05,"lo":0.988,"m":0.995,"hi":1},{"t":2006.2,"lo":0.9906,"m":0.9949,"hi":1},{"t":2006.35,"lo":0.986,"m":0.993,"hi":1},{"t":2006.5,"lo":0.984,"m":0.992,"hi":1},{"t":2006.6,"lo":0.97,"m":0.988,"hi":1},{"t":2006.7,"lo":0.9535,"m":0.984,"hi":1},{"t":2006.8,"lo":0.962,"m":0.981,"hi":1},{"t":2006.9,"lo":0.958,"m":0.98,"hi":1},{"t":2007.0,"lo":0.948,"m":0.979,"hi":1},{"t":2007.1,"lo":0.941,"m":0.9777,"hi":1},{"t":2007.2,"lo":0.945,"m":0.976,"hi":1},{"t":2007.3,"lo":0.938,"m":0.9734,"hi":1},{"t":2007.4,"lo":0.944,"m":0.975,"hi":1},{"t":2007.48,"lo":0.952,"m":0.971,"hi":1},{"t":2007.55,"lo":0.975,"m":0.9894,"hi":0.999},{"t":2007.65,"lo":0.965,"m":0.982,"hi":0.998},{"t":2007.75,"lo":0.955,"m":0.978,"hi":0.998},{"t":2007.85,"lo":0.94,"m":0.97,"hi":0.997},{"t":2007.95,"lo":0.93,"m":0.9666,"hi":0.997},{"t":2008.05,"lo":0.902,"m":0.958,"hi":0.996},{"t":2008.15,"lo":0.89,"m":0.95,"hi":0.996},{"t":2008.25,"lo":0.8765,"m":0.94,"hi":0.996},{"t":2008.35,"lo":0.842,"m":0.9307,"hi":0.995},{"t":2008.45,"lo":0.86,"m":0.925,"hi":0.995},{"t":2008.55,"lo":0.8668,"m":0.922,"hi":0.995},{"t":2008.65,"lo":0.878,"m":0.9335,"hi":0.995},{"t":2008.75,"lo":0.872,"m":0.936,"hi":0.995},{"t":2008.85,"lo":0.881,"m":0.939,"hi":0.995},{"t":2008.95,"lo":0.87,"m":0.941,"hi":0.995},{"t":2009.05,"lo":0.882,"m":0.9438,"hi":0.994},{"t":2009.15,"lo":0.866,"m":0.938,"hi":0.994},{"t":2009.25,"lo":0.848,"m":0.9364,"hi":0.994},{"t":2009.35,"lo":0.865,"m":0.931,"hi":0.994},{"t":2009.45,"lo":0.84,"m":0.92,"hi":0.994},{"t":2009.5,"lo":0.805,"m":0.911,"hi":0.994},{"t":2009.55,"lo":0.82,"m":0.908,"hi":0.994},{"t":2009.6,"lo":0.8365,"m":0.912,"hi":0.994},{"t":2009.7,"lo":0.831,"m":0.921,"hi":0.995},{"t":2009.75,"lo":0.86,"m":0.93,"hi":0.995},{"t":2009.8,"lo":0.881,"m":0.944,"hi":0.996},{"t":2009.85,"lo":0.905,"m":0.955,"hi":0.996},{"t":2009.9,"lo":0.925,"m":0.9666,"hi":0.997},{"t":2009.95,"lo":0.932,"m":0.975,"hi":0.998},{"t":2009.98,"lo":0.939,"m":0.981,"hi":0.998}
],
"ul": [
{"t":1996.0,"lo":0.999,"m":1.0,"hi":1},{"t":1996.2,"lo":0.998,"m":0.9995,"hi":1},{"t":1996.4,"lo":0.997,"m":0.999,"hi":1},{"t":1996.6,"lo":0.9995,"m":1.0,"hi":1},{"t":1997.0,"lo":0.9985,"m":0.9995,"hi":1},{"t":1997.5,"lo":0.9949,"m":0.9977,"hi":1},{"t":1997.75,"lo":0.993,"m":0.997,"hi":1},{"t":1998.0,"lo":0.991,"m":0.995,"hi":1},{"t":1998.25,"lo":0.99,"m":0.995,"hi":1},{"t":1998.5,"lo":0.986,"m":0.9943,"hi":1},{"t":1998.75,"lo":0.982,"m":0.993,"hi":1},{"t":1999.0,"lo":0.979,"m":0.9906,"hi":1},{"t":1999.2,"lo":0.976,"m":0.988,"hi":1},{"t":1999.4,"lo":0.9706,"m":0.985,"hi":1},{"t":1999.5,"lo":0.9623,"m":0.986,"hi":1},{"t":1999.6,"lo":0.975,"m":0.988,"hi":1},{"t":1999.75,"lo":0.9857,"m":0.9949,"hi":1},{"t":2000.0,"lo":0.9836,"m":0.995,"hi":1},{"t":2000.2,"lo":0.98,"m":0.993,"hi":1},{"t":2000.4,"lo":0.979,"m":0.9906,"hi":1},{"t":2000.6,"lo":0.975,"m":0.99,"hi":1},{"t":2000.8,"lo":0.9723,"m":0.989,"hi":1},{"t":2001.0,"lo":0.974,"m":0.989,"hi":1},{"t":2001.2,"lo":0.9708,"m":0.9877,"hi":1},{"t":2001.4,"lo":0.974,"m":0.988,"hi":1},{"t":2001.6,"lo":0.9695,"m":0.9892,"hi":1},{"t":2001.8,"lo":0.972,"m":0.989,"hi":1},{"t":2002.0,"lo":0.9765,"m":0.9906,"hi":1},{"t":2002.15,"lo":0.98,"m":0.992,"hi":1},{"t":2002.3,"lo":0.9836,"m":0.9949,"hi":1},{"t":2002.45,"lo":0.978,"m":0.992,"hi":1},{"t":2002.6,"lo":0.9736,"m":0.9906,"hi":1},{"t":2002.7,"lo":0.978,"m":0.991,"hi":1},{"t":2002.85,"lo":0.98,"m":0.992,"hi":1},{"t":2003.0,"lo":0.9807,"m":0.992,"hi":1},{"t":2003.2,"lo":0.978,"m":0.991,"hi":1},{"t":2003.4,"lo":0.9793,"m":0.9934,"hi":1},{"t":2003.6,"lo":0.983,"m":0.994,"hi":1},{"t":2003.8,"lo":0.9864,"m":0.9949,"hi":1},{"t":2004.0,"lo":0.99,"m":0.996,"hi":1},{"t":2004.2,"lo":0.9934,"m":0.9977,"hi":1},{"t":2004.5,"lo":0.995,"m":0.998,"hi":1},{"t":2004.8,"lo":0.9966,"m":0.9986,"hi":1},{"t":2005.05,"lo":0.997,"m":0.999,"hi":1},{"t":2005.3,"lo":0.9963,"m":0.9977,"hi":1},{"t":2005.5,"lo":0.995,"m":0.997,"hi":1},{"t":2005.7,"lo":0.992,"m":0.9963,"hi":1},{"t":2005.85,"lo":0.989,"m":0.996,"hi":1},{"t":2006.0,"lo":0.9906,"m":0.9969,"hi":1},{"t":2006.2,"lo":0.99,"m":0.996,"hi":1},{"t":2006.4,"lo":0.9892,"m":0.995,"hi":1},{"t":2006.55,"lo":0.985,"m":0.992,"hi":1},{"t":2006.7,"lo":0.9695,"m":0.989,"hi":1},{"t":2006.85,"lo":0.972,"m":0.988,"hi":1},{"t":2007.0,"lo":0.9666,"m":0.988,"hi":1},{"t":2007.15,"lo":0.97,"m":0.987,"hi":1},{"t":2007.3,"lo":0.9637,"m":0.9852,"hi":1},{"t":2007.42,"lo":0.96,"m":0.983,"hi":1},{"t":2007.5,"lo":0.98,"m":0.992,"hi":0.999},{"t":2007.6,"lo":0.968,"m":0.987,"hi":0.998},{"t":2007.7,"lo":0.955,"m":0.9822,"hi":0.998},{"t":2007.8,"lo":0.95,"m":0.978,"hi":0.998},{"t":2007.9,"lo":0.945,"m":0.9735,"hi":0.998},{"t":2008.0,"lo":0.94,"m":0.97,"hi":0.997},{"t":2008.1,"lo":0.932,"m":0.966,"hi":0.997},{"t":2008.2,"lo":0.91,"m":0.958,"hi":0.997},{"t":2008.3,"lo":0.888,"m":0.9506,"hi":0.996},{"t":2008.4,"lo":0.9,"m":0.95,"hi":0.996},{"t":2008.5,"lo":0.899,"m":0.953,"hi":0.996},{"t":2008.6,"lo":0.893,"m":0.949,"hi":0.996},{"t":2008.7,"lo":0.882,"m":0.945,"hi":0.996},{"t":2008.8,"lo":0.87,"m":0.941,"hi":0.995},{"t":2008.9,"lo":0.865,"m":0.939,"hi":0.995},{"t":2009.0,"lo":0.862,"m":0.94,"hi":0.995},{"t":2009.1,"lo":0.8593,"m":0.937,"hi":0.995},{"t":2009.2,"lo":0.85,"m":0.935,"hi":0.995},{"t":2009.3,"lo":0.848,"m":0.9335,"hi":0.995},{"t":2009.4,"lo":0.84,"m":0.93,"hi":0.995},{"t":2009.5,"lo":0.831,"m":0.922,"hi":0.995},{"t":2009.6,"lo":0.829,"m":0.919,"hi":0.995},{"t":2009.65,"lo":0.84,"m":0.921,"hi":0.996},{"t":2009.7,"lo":0.865,"m":0.93,"hi":0.996},{"t":2009.75,"lo":0.885,"m":0.94,"hi":0.996},{"t":2009.8,"lo":0.9106,"m":0.955,"hi":0.997},{"t":2009.85,"lo":0.935,"m":0.97,"hi":0.997},{"t":2009.9,"lo":0.9506,"m":0.979,"hi":0.998},{"t":2009.98,"lo":0.958,"m":0.989,"hi":0.998}
],
"sd": [
{"t":1996.0,"lo":0.987,"m":0.9943,"hi":1},{"t":1996.05,"lo":0.985,"m":0.989,"hi":1},{"t":1996.15,"lo":0.99,"m":0.995,"hi":1},{"t":1996.3,"lo":0.988,"m":0.994,"hi":1},{"t":1996.45,"lo":0.9805,"m":0.99,"hi":1},{"t":1996.55,"lo":0.99,"m":0.995,"hi":1},{"t":1996.8,"lo":0.989,"m":0.996,"hi":1},{"t":1997.0,"lo":0.996,"m":0.998,"hi":1},{"t":1997.15,"lo":0.991,"m":0.995,"hi":1},{"t":1997.3,"lo":0.988,"m":0.9945,"hi":1},{"t":1997.45,"lo":0.99,"m":0.995,"hi":1},{"t":1997.6,"lo":0.983,"m":0.993,"hi":1},{"t":1997.75,"lo":0.988,"m":0.994,"hi":1},{"t":1997.9,"lo":0.984,"m":0.9945,"hi":1},{"t":1998.05,"lo":0.99,"m":0.996,"hi":1},{"t":1998.2,"lo":0.987,"m":0.9955,"hi":1},{"t":1998.35,"lo":0.992,"m":0.997,"hi":1},{"t":1998.5,"lo":0.998,"m":0.9986,"hi":1},{"t":1998.58,"lo":0.98,"m":0.9843,"hi":0.998},{"t":1998.65,"lo":0.975,"m":0.991,"hi":0.998},{"t":1998.75,"lo":0.96,"m":0.977,"hi":0.998},{"t":1998.85,"lo":0.9317,"m":0.957,"hi":0.998},{"t":1998.95,"lo":0.975,"m":0.985,"hi":0.998},{"t":1999.05,"lo":0.98,"m":0.9915,"hi":0.998},{"t":1999.2,"lo":0.975,"m":0.9858,"hi":0.998},{"t":1999.3,"lo":0.96,"m":0.98,"hi":0.998},{"t":1999.4,"lo":0.938,"m":0.973,"hi":0.998},{"t":1999.5,"lo":0.945,"m":0.975,"hi":0.998},{"t":1999.55,"lo":0.929,"m":0.967,"hi":0.998},{"t":1999.65,"lo":0.96,"m":0.977,"hi":0.998},{"t":1999.72,"lo":0.97,"m":0.98,"hi":0.998},{"t":1999.85,"lo":0.9236,"m":0.964,"hi":0.997},{"t":1999.95,"lo":0.95,"m":0.975,"hi":0.997},{"t":2000.05,"lo":0.946,"m":0.978,"hi":0.997},{"t":2000.2,"lo":0.965,"m":0.983,"hi":0.997},{"t":2000.3,"lo":0.95,"m":0.975,"hi":0.997},{"t":2000.42,"lo":0.9236,"m":0.9649,"hi":0.997},{"t":2000.5,"lo":0.9175,"m":0.9616,"hi":0.997},{"t":2000.6,"lo":0.935,"m":0.965,"hi":0.997},{"t":2000.7,"lo":0.955,"m":0.975,"hi":0.997},{"t":2000.85,"lo":0.9606,"m":0.9815,"hi":0.997},{"t":2000.95,"lo":0.945,"m":0.972,"hi":0.997},{"t":2001.05,"lo":0.935,"m":0.965,"hi":0.997},{"t":2001.1,"lo":0.9132,"m":0.951,"hi":0.997},{"t":2001.18,"lo":0.95,"m":0.975,"hi":0.997},{"t":2001.3,"lo":0.96,"m":0.978,"hi":0.997},{"t":2001.4,"lo":0.945,"m":0.9744,"hi":0.997},{"t":2001.5,"lo":0.9531,"m":0.9744,"hi":0.997},{"t":2001.6,"lo":0.942,"m":0.974,"hi":0.997},{"t":2001.7,"lo":0.946,"m":0.973,"hi":0.997},{"t":2001.8,"lo":0.955,"m":0.977,"hi":0.997},{"t":2001.9,"lo":0.957,"m":0.9815,"hi":0.997},{"t":2002.0,"lo":0.948,"m":0.976,"hi":0.997},{"t":2002.1,"lo":0.953,"m":0.979,"hi":0.997},{"t":2002.2,"lo":0.95,"m":0.976,"hi":0.997},{"t":2002.25,"lo":0.948,"m":0.9644,"hi":0.997},{"t":2002.35,"lo":0.975,"m":0.987,"hi":0.998},{"t":2002.45,"lo":0.983,"m":0.99,"hi":0.998},{"t":2002.6,"lo":0.9835,"m":0.9906,"hi":0.998},{"t":2002.68,"lo":0.952,"m":0.9559,"hi":0.998},{"t":2002.75,"lo":0.97,"m":0.984,"hi":0.998},{"t":2002.85,"lo":0.97,"m":0.983,"hi":0.998},{"t":2003.0,"lo":0.958,"m":0.9815,"hi":0.998},{"t":2003.1,"lo":0.965,"m":0.979,"hi":0.998},{"t":2003.2,"lo":0.942,"m":0.977,"hi":0.998},{"t":2003.25,"lo":0.95,"m":0.9616,"hi":0.998},{"t":2003.35,"lo":0.965,"m":0.983,"hi":0.998},{"t":2003.5,"lo":0.965,"m":0.985,"hi":0.998},{"t":2003.6,"lo":0.967,"m":0.987,"hi":0.998},{"t":2003.7,"lo":0.962,"m":0.985,"hi":0.998},{"t":2003.8,"lo":0.9701,"m":0.984,"hi":0.998},{"t":2003.9,"lo":0.968,"m":0.986,"hi":0.998},{"t":2004.0,"lo":0.976,"m":0.987,"hi":0.998},{"t":2004.15,"lo":0.98,"m":0.986,"hi":0.998},{"t":2004.3,"lo":0.984,"m":0.9875,"hi":0.998},{"t":2004.45,"lo":0.985,"m":0.988,"hi":0.998},{"t":2004.6,"lo":0.988,"m":0.99,"hi":0.998},{"t":2004.7,"lo":0.992,"m":0.995,"hi":0.999},{"t":2004.85,"lo":0.9957,"m":0.997,"hi":0.999},{"t":2005.0,"lo":0.992,"m":0.996,"hi":0.999},{"t":2005.1,"lo":0.986,"m":0.993,"hi":0.999},{"t":2005.2,"lo":0.9805,"m":0.99,"hi":0.999},{"t":2005.3,"lo":0.985,"m":0.993,"hi":0.999},{"t":2005.4,"lo":0.982,"m":0.9915,"hi":0.999},{"t":2005.5,"lo":0.988,"m":0.993,"hi":0.999},{"t":2005.6,"lo":0.986,"m":0.9922,"hi":0.999},{"t":2005.7,"lo":0.99,"m":0.995,"hi":0.999},{"t":2005.8,"lo":0.995,"m":0.997,"hi":0.999},{"t":2005.9,"lo":0.99,"m":0.994,"hi":0.999},{"t":2006.0,"lo":0.987,"m":0.9915,"hi":0.999},{"t":2006.1,"lo":0.984,"m":0.99,"hi":0.999},{"t":2006.2,"lo":0.983,"m":0.99,"hi":0.999},{"t":2006.3,"lo":0.988,"m":0.993,"hi":0.999},{"t":2006.4,"lo":0.988,"m":0.9915,"hi":0.999},{"t":2006.5,"lo":0.985,"m":0.991,"hi":0.999},{"t":2006.6,"lo":0.987,"m":0.9886,"hi":0.999},{"t":2006.7,"lo":0.993,"m":0.995,"hi":0.999},{"t":2006.8,"lo":0.9985,"m":0.9993,"hi":0.9995},{"t":2006.95,"lo":0.996,"m":0.998,"hi":0.9995},{"t":2007.1,"lo":0.994,"m":0.996,"hi":0.999},{"t":2007.25,"lo":0.99,"m":0.995,"hi":0.999},{"t":2007.4,"lo":0.985,"m":0.9915,"hi":0.999},{"t":2007.5,"lo":0.98,"m":0.99,"hi":0.998},{"t":2007.6,"lo":0.9777,"m":0.9886,"hi":0.998},{"t":2007.7,"lo":0.976,"m":0.988,"hi":0.998},{"t":2007.8,"lo":0.9734,"m":0.986,"hi":0.998},{"t":2007.9,"lo":0.968,"m":0.985,"hi":0.998},{"t":2008.0,"lo":0.967,"m":0.9858,"hi":0.997},{"t":2008.1,"lo":0.96,"m":0.98,"hi":0.997},{"t":2008.2,"lo":0.955,"m":0.9777,"hi":0.997},{"t":2008.3,"lo":0.94,"m":0.976,"hi":0.996},{"t":2008.35,"lo":0.932,"m":0.977,"hi":0.996},{"t":2008.45,"lo":0.945,"m":0.979,"hi":0.996},{"t":2008.55,"lo":0.94,"m":0.975,"hi":0.996},{"t":2008.65,"lo":0.945,"m":0.977,"hi":0.996},{"t":2008.7,"lo":0.9388,"m":0.973,"hi":0.995},{"t":2008.8,"lo":0.948,"m":0.972,"hi":0.995},{"t":2008.9,"lo":0.955,"m":0.97,"hi":0.995},{"t":2009.0,"lo":0.935,"m":0.966,"hi":0.995},{"t":2009.05,"lo":0.9246,"m":0.9644,"hi":0.995},{"t":2009.15,"lo":0.918,"m":0.963,"hi":0.994},{"t":2009.2,"lo":0.9132,"m":0.96,"hi":0.994},{"t":2009.3,"lo":0.9018,"m":0.95,"hi":0.994},{"t":2009.4,"lo":0.912,"m":0.958,"hi":0.994},{"t":2009.5,"lo":0.9037,"m":0.956,"hi":0.994},{"t":2009.6,"lo":0.9094,"m":0.959,"hi":0.994},{"t":2009.7,"lo":0.915,"m":0.96,"hi":0.994},{"t":2009.75,"lo":0.925,"m":0.9616,"hi":0.995},{"t":2009.8,"lo":0.95,"m":0.965,"hi":0.996},{"t":2009.85,"lo":0.961,"m":0.97,"hi":0.997},{"t":2009.92,"lo":0.969,"m":0.9815,"hi":0.998},{"t":2009.98,"lo":0.945,"m":0.973,"hi":0.998}
],
"sl": [
{"t":1996.0,"lo":0.9938,"m":0.998,"hi":1},{"t":1996.25,"lo":0.995,"m":0.998,"hi":1},{"t":1996.5,"lo":0.989,"m":0.997,"hi":1},{"t":1996.75,"lo":0.995,"m":0.998,"hi":1},{"t":1997.0,"lo":0.9985,"m":0.9992,"hi":1},{"t":1997.25,"lo":0.995,"m":0.998,"hi":1},{"t":1997.5,"lo":0.9946,"m":0.998,"hi":1},{"t":1997.75,"lo":0.996,"m":0.9985,"hi":1},{"t":1998.0,"lo":0.9977,"m":0.999,"hi":1},{"t":1998.25,"lo":0.996,"m":0.998,"hi":1},{"t":1998.5,"lo":0.9954,"m":0.998,"hi":1},{"t":1998.6,"lo":0.986,"m":0.989,"hi":0.998},{"t":1998.7,"lo":0.975,"m":0.984,"hi":0.998},{"t":1998.85,"lo":0.952,"m":0.9785,"hi":0.998},{"t":1998.95,"lo":0.965,"m":0.985,"hi":0.998},{"t":1999.05,"lo":0.975,"m":0.988,"hi":0.998},{"t":1999.2,"lo":0.97,"m":0.989,"hi":0.998},{"t":1999.3,"lo":0.965,"m":0.985,"hi":0.998},{"t":1999.4,"lo":0.9538,"m":0.983,"hi":0.998},{"t":1999.5,"lo":0.96,"m":0.984,"hi":0.998},{"t":1999.55,"lo":0.946,"m":0.98,"hi":0.998},{"t":1999.65,"lo":0.965,"m":0.985,"hi":0.998},{"t":1999.75,"lo":0.96,"m":0.983,"hi":0.998},{"t":1999.85,"lo":0.9385,"m":0.9738,"hi":0.998},{"t":1999.95,"lo":0.955,"m":0.978,"hi":0.998},{"t":2000.05,"lo":0.952,"m":0.977,"hi":0.998},{"t":2000.2,"lo":0.946,"m":0.978,"hi":0.998},{"t":2000.3,"lo":0.935,"m":0.972,"hi":0.998},{"t":2000.4,"lo":0.92,"m":0.9646,"hi":0.998},{"t":2000.5,"lo":0.925,"m":0.966,"hi":0.998},{"t":2000.6,"lo":0.945,"m":0.972,"hi":0.998},{"t":2000.7,"lo":0.952,"m":0.978,"hi":0.998},{"t":2000.85,"lo":0.95,"m":0.977,"hi":0.998},{"t":2001.0,"lo":0.938,"m":0.971,"hi":0.998},{"t":2001.1,"lo":0.9277,"m":0.963,"hi":0.998},{"t":2001.2,"lo":0.96,"m":0.98,"hi":0.998},{"t":2001.3,"lo":0.968,"m":0.986,"hi":0.998},{"t":2001.4,"lo":0.965,"m":0.984,"hi":0.998},{"t":2001.5,"lo":0.9646,"m":0.983,"hi":0.998},{"t":2001.6,"lo":0.962,"m":0.982,"hi":0.998},{"t":2001.75,"lo":0.963,"m":0.98,"hi":0.998},{"t":2001.85,"lo":0.965,"m":0.982,"hi":0.998},{"t":2002.0,"lo":0.971,"m":0.985,"hi":0.998},{"t":2002.1,"lo":0.975,"m":0.987,"hi":0.998},{"t":2002.2,"lo":0.9846,"m":0.992,"hi":0.998},{"t":2002.35,"lo":0.983,"m":0.992,"hi":0.999},{"t":2002.45,"lo":0.985,"m":0.9923,"hi":0.999},{"t":2002.55,"lo":0.975,"m":0.989,"hi":0.999},{"t":2002.65,"lo":0.969,"m":0.99,"hi":0.999},{"t":2002.8,"lo":0.983,"m":0.9908,"hi":0.999},{"t":2002.9,"lo":0.98,"m":0.99,"hi":0.999},{"t":2003.0,"lo":0.9785,"m":0.9892,"hi":0.999},{"t":2003.1,"lo":0.98,"m":0.989,"hi":0.999},{"t":2003.25,"lo":0.963,"m":0.983,"hi":0.999},{"t":2003.35,"lo":0.975,"m":0.988,"hi":0.999},{"t":2003.45,"lo":0.9846,"m":0.9892,"hi":0.999},{"t":2003.6,"lo":0.985,"m":0.991,"hi":0.999},{"t":2003.7,"lo":0.9862,"m":0.9923,"hi":0.999},{"t":2003.85,"lo":0.987,"m":0.993,"hi":0.999},{"t":2004.0,"lo":0.9877,"m":0.9938,"hi":0.999},{"t":2004.15,"lo":0.986,"m":0.993,"hi":0.999},{"t":2004.3,"lo":0.985,"m":0.9923,"hi":0.999},{"t":2004.45,"lo":0.988,"m":0.994,"hi":0.999},{"t":2004.6,"lo":0.9938,"m":0.9954,"hi":0.999},{"t":2004.75,"lo":0.995,"m":0.997,"hi":0.999},{"t":2004.9,"lo":0.9985,"m":0.9992,"hi":1},{"t":2005.05,"lo":0.994,"m":0.997,"hi":0.999},{"t":2005.2,"lo":0.99,"m":0.995,"hi":0.999},{"t":2005.3,"lo":0.989,"m":0.9954,"hi":0.999},{"t":2005.45,"lo":0.992,"m":0.996,"hi":0.999},{"t":2005.6,"lo":0.9938,"m":0.997,"hi":0.999},{"t":2005.75,"lo":0.995,"m":0.998,"hi":0.999},{"t":2005.9,"lo":0.9985,"m":0.9992,"hi":1},{"t":2006.05,"lo":0.993,"m":0.997,"hi":0.999},{"t":2006.2,"lo":0.9908,"m":0.9962,"hi":0.999},{"t":2006.35,"lo":0.992,"m":0.996,"hi":0.999},{"t":2006.5,"lo":0.9938,"m":0.997,"hi":0.999},{"t":2006.65,"lo":0.9946,"m":0.997,"hi":0.999},{"t":2006.8,"lo":0.996,"m":0.9977,"hi":0.999},{"t":2006.95,"lo":0.995,"m":0.997,"hi":0.999},{"t":2007.1,"lo":0.9938,"m":0.997,"hi":0.999},{"t":2007.3,"lo":0.995,"m":0.997,"hi":0.999},{"t":2007.5,"lo":0.9954,"m":0.997,"hi":0.999},{"t":2007.6,"lo":0.99,"m":0.995,"hi":0.999},{"t":2007.7,"lo":0.988,"m":0.9938,"hi":0.998},{"t":2007.8,"lo":0.985,"m":0.993,"hi":0.998},{"t":2007.9,"lo":0.9846,"m":0.9923,"hi":0.998},{"t":2008.0,"lo":0.982,"m":0.991,"hi":0.998},{"t":2008.1,"lo":0.977,"m":0.9908,"hi":0.997},{"t":2008.2,"lo":0.98,"m":0.988,"hi":0.997},{"t":2008.3,"lo":0.976,"m":0.983,"hi":0.997},{"t":2008.4,"lo":0.972,"m":0.983,"hi":0.997},{"t":2008.5,"lo":0.9646,"m":0.9815,"hi":0.996},{"t":2008.6,"lo":0.962,"m":0.981,"hi":0.996},{"t":2008.7,"lo":0.96,"m":0.98,"hi":0.996},{"t":2008.8,"lo":0.957,"m":0.977,"hi":0.995},{"t":2008.9,"lo":0.952,"m":0.9738,"hi":0.995},{"t":2009.0,"lo":0.94,"m":0.968,"hi":0.994},{"t":2009.05,"lo":0.9308,"m":0.9646,"hi":0.994},{"t":2009.15,"lo":0.915,"m":0.961,"hi":0.993},{"t":2009.2,"lo":0.906,"m":0.96,"hi":0.993},{"t":2009.3,"lo":0.8923,"m":0.9508,"hi":0.993},{"t":2009.35,"lo":0.905,"m":0.954,"hi":0.993},{"t":2009.4,"lo":0.902,"m":0.956,"hi":0.993},{"t":2009.5,"lo":0.9031,"m":0.9585,"hi":0.993},{"t":2009.6,"lo":0.909,"m":0.9615,"hi":0.993},{"t":2009.7,"lo":0.92,"m":0.9662,"hi":0.994},{"t":2009.75,"lo":0.935,"m":0.97,"hi":0.995},{"t":2009.8,"lo":0.9446,"m":0.9754,"hi":0.996},{"t":2009.9,"lo":0.9723,"m":0.989,"hi":0.998},{"t":2009.98,"lo":0.9677,"m":0.9846,"hi":0.998}
]
},
"vconcat": [
{
 "width": 953, "height": 380,
 "data": {"name": "price"},
 "mark": {"type": "line", "strokeWidth": 2.6, "strokeJoin": "round"},
 "encoding": {
  "x": {"field": "t", "type": "quantitative", "scale": {"domain": [1995.725, 2010.26], "nice": false, "zero": false}, "axis": {"values": [1996,1997,1998,1999,2000,2001,2002,2003,2004,2005,2006,2007,2008,2009,2010], "labelExpr": "substring(toString(datum.value), 2)", "title": null, "labelPadding": 2}},
  "y": {"field": "v", "type": "quantitative", "scale": {"domain": [389, 2647], "nice": false, "zero": false}, "axis": {"values": [500,1000,1500,2000,2500], "format": "d", "title": "Price", "titleX": -56, "titleY": 190}},
  "color": {"field": "c", "type": "nominal", "scale": {"domain": ["GER","UK","US"], "range": ["#1e1e1e","#a3a3a3","#656565"]}, "legend": {"orient": "none", "legendX": 9, "legendY": 10, "direction": "horizontal", "columns": 3, "title": null, "symbolType": "M-1,0L7.75,0", "symbolSize": 576, "symbolStrokeWidth": 2.5, "symbolFillColor": "transparent", "labelFontSize": 27, "labelColor": "black", "labelFont": "Liberation Sans", "labelOffset": 102, "columnPadding": 52, "padding": 12, "strokeColor": "black", "fillColor": "white"}}
 }
},
{"spacing": 1, "hconcat": [
 {"width": 435, "height": 270, "title": "DET", "data": {"name": "gd"}, "layer": [
  {"mark": {"type": "area", "color": "#999999", "opacity": 1}, "encoding": {"x": {"field": "t", "type": "quantitative", "scale": {"domain": [1995.37, 2010.6], "nice": false, "zero": false}, "axis": {"values": [1996,1998,2000,2002,2004,2006,2008,2010], "labelExpr": "substring(toString(datum.value), 2)", "title": null}}, "y": {"field": "lo", "type": "quantitative", "scale": {"domain": [0.8385, 1.0115], "nice": false, "zero": false}, "axis": {"values": [0.85,0.9,0.95,1], "labelExpr": "replace(format(datum.value, '.2~f'), '0.', '.')", "title": "GER", "titleX": -56, "titleY": 135}}, "y2": {"field": "hi"}}},
  {"mark": {"type": "line", "color": "#3c3c3c", "strokeWidth": 3}, "encoding": {"x": {"field": "t", "type": "quantitative", "title": null}, "y": {"field": "m", "type": "quantitative", "title": "GER"}}},
  {"data": {"values": [{"ref": 1}]}, "mark": {"type": "rule", "color": "#404040", "strokeWidth": 2.5}, "encoding": {"y": {"field": "ref", "type": "quantitative", "title": "GER"}}}
 ]},
 {"width": 435, "height": 270, "title": "LAM", "data": {"name": "gl"}, "layer": [
  {"mark": {"type": "area", "color": "#999999", "opacity": 1}, "encoding": {"x": {"field": "t", "type": "quantitative", "scale": {"domain": [1995.37, 2010.6], "nice": false, "zero": false}, "axis": {"values": [1996,1998,2000,2002,2004,2006,2008,2010], "labelExpr": "substring(toString(datum.value), 2)", "title": null}}, "y": {"field": "lo", "type": "quantitative", "scale": {"domain": [0.8832, 1.0083], "nice": false, "zero": false}, "axis": {"values": [0.9,0.92,0.94,0.96,0.98,1], "labelExpr": "replace(format(datum.value, '.2~f'), '0.', '.')", "title": "GER", "titleX": -56, "titleY": 135}}, "y2": {"field": "hi"}}},
  {"mark": {"type": "line", "color": "#3c3c3c", "strokeWidth": 3}, "encoding": {"x": {"field": "t", "type": "quantitative", "title": null}, "y": {"field": "m", "type": "quantitative", "title": "GER"}}},
  {"data": {"values": [{"ref": 1}]}, "mark": {"type": "rule", "color": "#404040", "strokeWidth": 2.5}, "encoding": {"y": {"field": "ref", "type": "quantitative", "title": "GER"}}}
 ]}
]},
{"spacing": 1, "hconcat": [
 {"width": 435, "height": 270, "title": "DET", "data": {"name": "ud"}, "layer": [
  {"mark": {"type": "area", "color": "#999999", "opacity": 1}, "encoding": {"x": {"field": "t", "type": "quantitative", "scale": {"domain": [1995.37, 2010.6], "nice": false, "zero": false}, "axis": {"values": [1996,1998,2000,2002,2004,2006,2008,2010], "labelExpr": "substring(toString(datum.value), 2)", "title": null}}, "y": {"field": "lo", "type": "quantitative", "scale": {"domain": [0.7854, 1.0157], "nice": false, "zero": false}, "axis": {"values": [0.8,0.85,0.9,0.95,1], "labelExpr": "replace(format(datum.value, '.2~f'), '0.', '.')", "title": "UK", "titleX": -56, "titleY": 135}}, "y2": {"field": "hi"}}},
  {"mark": {"type": "line", "color": "#3c3c3c", "strokeWidth": 3}, "encoding": {"x": {"field": "t", "type": "quantitative", "title": null}, "y": {"field": "m", "type": "quantitative", "title": "UK"}}},
  {"data": {"values": [{"ref": 1}]}, "mark": {"type": "rule", "color": "#404040", "strokeWidth": 2.5}, "encoding": {"y": {"field": "ref", "type": "quantitative", "title": "UK"}}}
 ]},
 {"width": 435, "height": 270, "title": "LAM", "data": {"name": "ul"}, "layer": [
  {"mark": {"type": "area", "color": "#999999", "opacity": 1}, "encoding": {"x": {"field": "t", "type": "quantitative", "scale": {"domain": [1995.37, 2010.6], "nice": false, "zero": false}, "axis": {"values": [1996,1998,2000,2002,2004,2006,2008,2010], "labelExpr": "substring(toString(datum.value), 2)", "title": null}}, "y": {"field": "lo", "type": "quantitative", "scale": {"domain": [0.7854, 1.0157], "nice": false, "zero": false}, "axis": {"values": [0.8,0.85,0.9,0.95,1], "labelExpr": "replace(format(datum.value, '.2~f'), '0.', '.')", "title": "UK", "titleX": -56, "titleY": 135}}, "y2": {"field": "hi"}}},
  {"mark": {"type": "line", "color": "#3c3c3c", "strokeWidth": 3}, "encoding": {"x": {"field": "t", "type": "quantitative", "title": null}, "y": {"field": "m", "type": "quantitative", "title": "UK"}}},
  {"data": {"values": [{"ref": 1}]}, "mark": {"type": "rule", "color": "#404040", "strokeWidth": 2.5}, "encoding": {"y": {"field": "ref", "type": "quantitative", "title": "UK"}}}
 ]}
]},
{"spacing": 1, "hconcat": [
 {"width": 435, "height": 270, "title": "DET", "data": {"name": "sd"}, "layer": [
  {"mark": {"type": "area", "color": "#999999", "opacity": 1}, "encoding": {"x": {"field": "t", "type": "quantitative", "scale": {"domain": [1995.37, 2010.6], "nice": false, "zero": false}, "axis": {"values": [1996,1998,2000,2002,2004,2006,2008,2010], "labelExpr": "substring(toString(datum.value), 2)", "title": null}}, "y": {"field": "lo", "type": "quantitative", "scale": {"domain": [0.893, 1.0074], "nice": false, "zero": false}, "axis": {"values": [0.9,0.92,0.94,0.96,0.98,1], "labelExpr": "replace(format(datum.value, '.2~f'), '0.', '.')", "title": "US", "titleX": -56, "titleY": 135}}, "y2": {"field": "hi"}}},
  {"mark": {"type": "line", "color": "#3c3c3c", "strokeWidth": 3}, "encoding": {"x": {"field": "t", "type": "quantitative", "title": null}, "y": {"field": "m", "type": "quantitative", "title": "US"}}},
  {"data": {"values": [{"ref": 1}]}, "mark": {"type": "rule", "color": "#404040", "strokeWidth": 2.5}, "encoding": {"y": {"field": "ref", "type": "quantitative", "title": "US"}}}
 ]},
 {"width": 435, "height": 270, "title": "LAM", "data": {"name": "sl"}, "layer": [
  {"mark": {"type": "area", "color": "#999999", "opacity": 1}, "encoding": {"x": {"field": "t", "type": "quantitative", "scale": {"domain": [1995.37, 2010.6], "nice": false, "zero": false}, "axis": {"values": [1996,1998,2000,2002,2004,2006,2008,2010], "labelExpr": "substring(toString(datum.value), 2)", "title": null}}, "y": {"field": "lo", "type": "quantitative", "scale": {"domain": [0.8843, 1.008], "nice": false, "zero": false}, "axis": {"values": [0.9,0.92,0.94,0.96,0.98,1], "labelExpr": "replace(format(datum.value, '.2~f'), '0.', '.')", "title": "US", "titleX": -56, "titleY": 135}}, "y2": {"field": "hi"}}},
  {"mark": {"type": "line", "color": "#3c3c3c", "strokeWidth": 3}, "encoding": {"x": {"field": "t", "type": "quantitative", "title": null}, "y": {"field": "m", "type": "quantitative", "title": "US"}}},
  {"data": {"values": [{"ref": 1}]}, "mark": {"type": "rule", "color": "#404040", "strokeWidth": 2.5}, "encoding": {"y": {"field": "ref", "type": "quantitative", "title": "US"}}}
 ]}
]}
]
}
